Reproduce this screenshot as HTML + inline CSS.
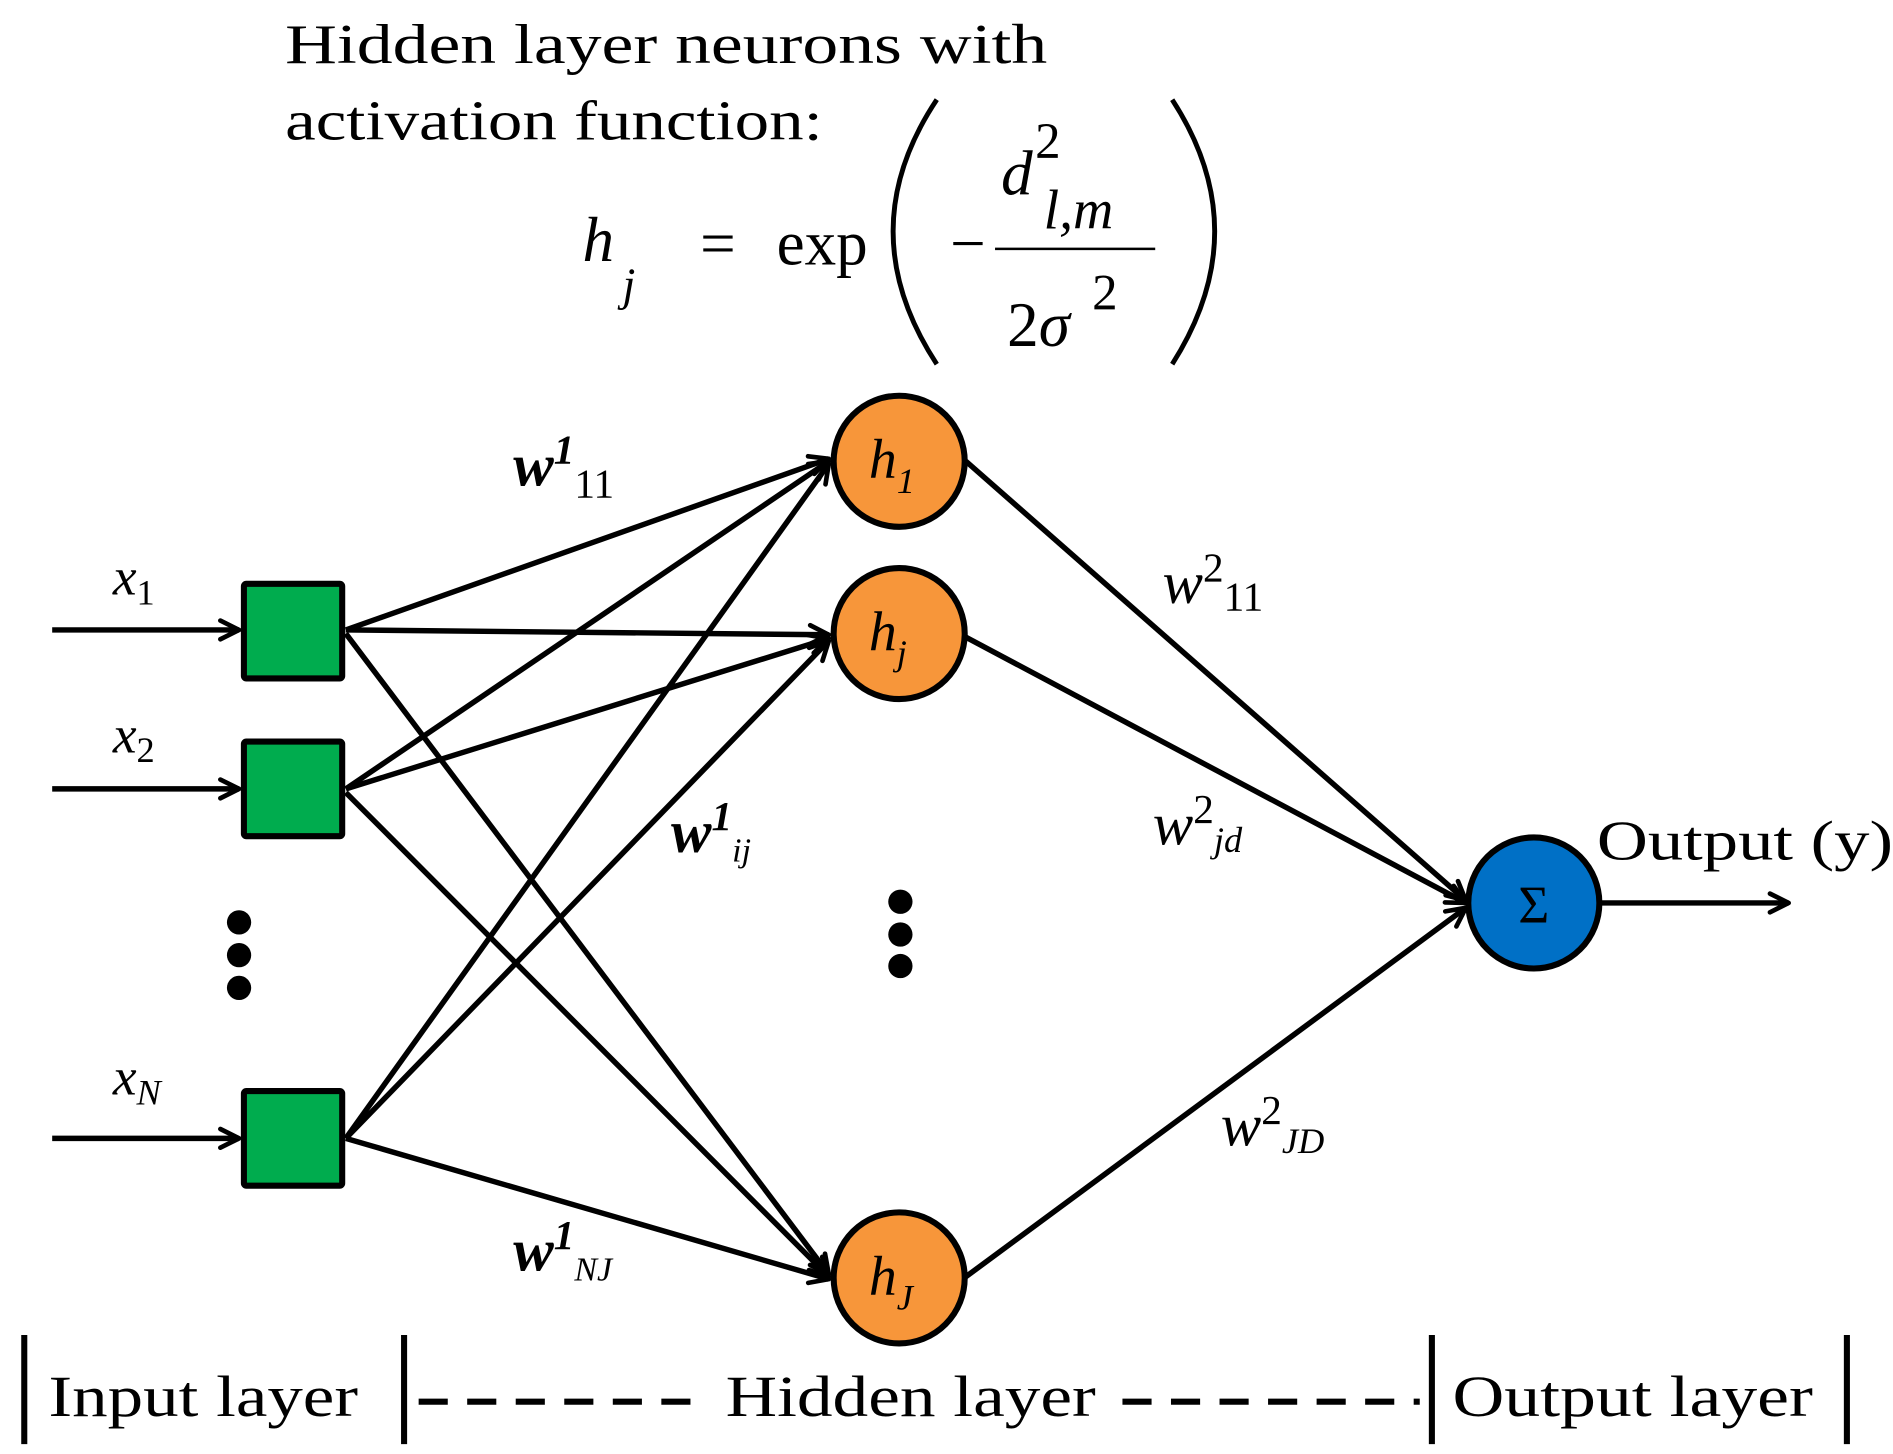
<!DOCTYPE html>
<html><head><meta charset="utf-8"><style>
html,body{margin:0;padding:0;background:#fff;width:1893px;height:1454px;overflow:hidden}
svg{display:block}
text{font-family:"Liberation Serif",serif;fill:#000}
</style></head><body>
<svg width="1893" height="1454" viewBox="0 0 1560 1198" xmlns="http://www.w3.org/2000/svg">
<defs>
<marker id="ar" viewBox="0 0 20 20" refX="18" refY="10" markerWidth="22" markerHeight="22" markerUnits="userSpaceOnUse" orient="auto">
<path d="M4,3 L18,10 L4,17" fill="none" stroke="#000" stroke-width="3.5" stroke-linecap="round" stroke-linejoin="round"/>
</marker>
</defs>
<g stroke="#000" stroke-width="4.5" fill="none" marker-end="url(#ar)">
<line x1="43" y1="519" x2="197" y2="519"/>
<line x1="43" y1="650" x2="197" y2="650"/>
<line x1="43" y1="938" x2="197" y2="938"/>
<line x1="285" y1="519" x2="683" y2="378"/>
<line x1="285" y1="519" x2="683" y2="523"/>
<line x1="285" y1="522" x2="683" y2="1050"/>
<line x1="285" y1="650" x2="683" y2="380"/>
<line x1="285" y1="650" x2="683" y2="526"/>
<line x1="285" y1="653" x2="683" y2="1052"/>
<line x1="285" y1="938" x2="683" y2="382"/>
<line x1="285" y1="938" x2="683" y2="528"/>
<line x1="285" y1="938" x2="683" y2="1054"/>
<line x1="796" y1="380" x2="1208" y2="742"/>
<line x1="796" y1="525" x2="1208" y2="744"/>
<line x1="796" y1="1052" x2="1208" y2="748"/>
<line x1="1320" y1="744" x2="1474" y2="744"/>
</g>
<g fill="#00AC4E" stroke="#000" stroke-width="5">
<rect x="201" y="481" width="81" height="78" rx="2"/>
<rect x="201" y="611" width="81" height="78" rx="2"/>
<rect x="201" y="899" width="81" height="78" rx="2"/>
</g>
<g fill="#F7963A" stroke="#000" stroke-width="5">
<circle cx="741" cy="380" r="54"/>
<circle cx="741" cy="522" r="54"/>
<circle cx="741" cy="1053" r="54"/>
</g>
<circle cx="1264" cy="744" r="54" fill="#0070C6" stroke="#000" stroke-width="5"/>
<g fill="#000">
<circle cx="197" cy="760" r="10"/><circle cx="197" cy="787" r="10"/><circle cx="197" cy="814" r="10"/>
<circle cx="742" cy="743" r="10"/><circle cx="742" cy="770" r="10"/><circle cx="742" cy="796" r="10"/>
</g>
<text x="1264" y="760" font-size="44" text-anchor="middle">Σ</text>
<g font-style="italic" font-size="46">
<text x="716" y="394">h<tspan font-size="30" dy="12">1</tspan></text>
<text x="716" y="536">h<tspan font-size="30" dy="12">j</tspan></text>
<text x="716" y="1067">h<tspan font-size="30" dy="12">J</tspan></text>
</g>
<g font-size="44">
<text x="93" y="490" font-style="italic">x<tspan font-size="30" dy="8" font-style="normal">1</tspan></text>
<text x="93" y="620" font-style="italic">x<tspan font-size="30" dy="8" font-style="normal">2</tspan></text>
<text x="93" y="902" font-style="italic">x<tspan font-size="30" dy="8">N</tspan></text>
</g>
<g font-size="50">
<text x="423" y="400" font-weight="bold" font-style="italic">w<tspan font-size="34" dy="-18">1</tspan><tspan font-size="34" dy="28" font-weight="normal" font-style="normal">11</tspan></text>
<text x="553" y="702" font-weight="bold" font-style="italic">w<tspan font-size="34" dy="-18">1</tspan><tspan font-size="28" dy="26" font-weight="normal">ij</tspan></text>
<text x="423" y="1047" font-weight="bold" font-style="italic">w<tspan font-size="34" dy="-18">1</tspan><tspan font-size="28" dy="26" font-weight="normal">NJ</tspan></text>
<text x="958" y="497" font-style="italic">w<tspan font-size="34" dy="-18" font-style="normal">2</tspan><tspan font-size="34" dy="24" font-style="normal">11</tspan></text>
<text x="950" y="696" font-style="italic">w<tspan font-size="34" dy="-18" font-style="normal">2</tspan><tspan font-size="30" dy="24">jd</tspan></text>
<text x="1006" y="944" font-style="italic">w<tspan font-size="34" dy="-18" font-style="normal">2</tspan><tspan font-size="30" dy="24">JD</tspan></text>
</g>
<text x="1316" y="708" font-size="46" textLength="244" lengthAdjust="spacingAndGlyphs">Output (y)</text>
<text x="235" y="52" font-size="46" textLength="628" lengthAdjust="spacingAndGlyphs">Hidden layer neurons with</text>
<text x="235" y="115" font-size="46" textLength="443" lengthAdjust="spacingAndGlyphs">activation function:</text>
<g font-size="52">
<text x="480" y="215" font-style="italic">h</text>
<text x="513" y="247" font-style="italic" font-size="38">j</text>
<text x="577" y="218">=</text>
<text x="640" y="218">exp</text>
<text x="783" y="218">−</text>
<text x="825" y="160" font-style="italic">d</text>
<text x="853" y="130" font-size="42">2</text>
<text x="860" y="188" font-style="italic" font-size="46">l,m</text>
<text x="830" y="285">2<tspan font-style="italic">σ</tspan></text>
<text x="900" y="255" font-size="42">2</text>
</g>
<line x1="820" y1="205" x2="952" y2="205" stroke="#000" stroke-width="2"/>
<path d="M772,82 Q700,190 772,300" fill="none" stroke="#000" stroke-width="4"/>
<path d="M966,82 Q1036,190 966,300" fill="none" stroke="#000" stroke-width="4"/>
<g stroke="#000" stroke-width="5">
<line x1="20" y1="1100" x2="20" y2="1190"/>
<line x1="333" y1="1100" x2="333" y2="1190"/>
<line x1="1180" y1="1100" x2="1180" y2="1190"/>
<line x1="1522" y1="1100" x2="1522" y2="1190"/>
<line x1="345" y1="1155" x2="585" y2="1155" stroke-dasharray="24,16"/>
<line x1="925" y1="1155" x2="1170" y2="1155" stroke-dasharray="24,16"/>
</g>
<g font-size="48">
<text x="40" y="1167" textLength="255" lengthAdjust="spacingAndGlyphs">Input layer</text>
<text x="598" y="1167" textLength="305" lengthAdjust="spacingAndGlyphs">Hidden layer</text>
<text x="1197" y="1167" textLength="297" lengthAdjust="spacingAndGlyphs">Output layer</text>
</g>
</svg>
</body></html>
